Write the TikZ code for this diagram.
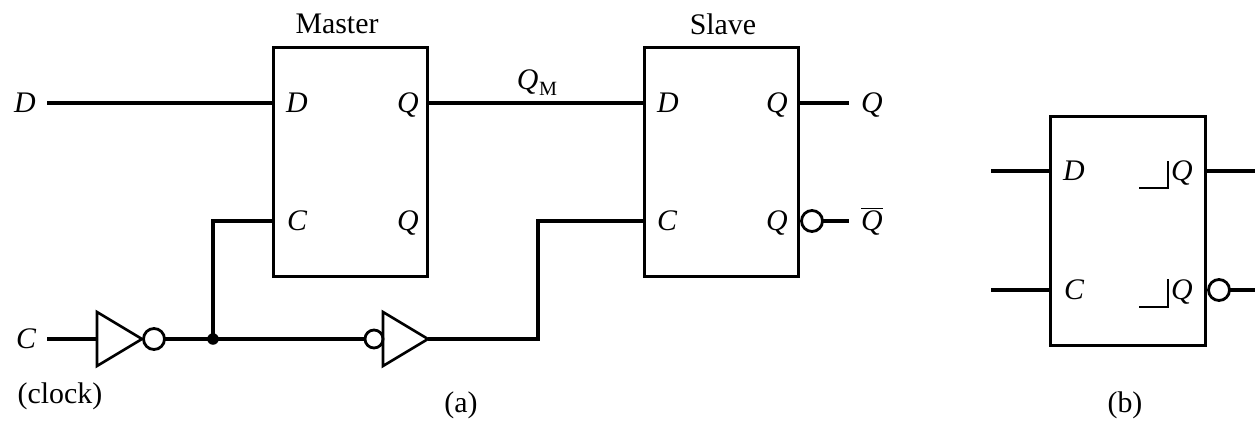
\documentclass[tikz,border=0pt]{standalone}
\usepackage{fontspec}
\setmainfont{Liberation Serif}
\usepackage{tikz}
\usetikzlibrary{shapes.geometric}
\tikzset{
  wire/.style={color=black,line width=2pt},
  ffbox/.style={draw,line width=1.7pt,minimum width=3.1cm,minimum height=4.6cm,inner sep=0pt,outer sep=0pt},
  invtri/.style={draw,line width=1.5pt,isosceles triangle,isosceles triangle stretches,minimum width=1.08cm,minimum height=0.9cm,inner sep=0pt,outer sep=0pt,anchor=lower side},
  bubble/.style={draw,line width=1.6pt,circle,minimum size=0.42cm,inner sep=0pt,outer sep=0pt,fill=white},
  smallbubble/.style={draw,line width=1.6pt,circle,minimum size=0.36cm,inner sep=0pt,outer sep=0pt,fill=white},
  jointdot/.style={circle,fill=black,minimum size=0.23cm,inner sep=0pt,outer sep=0pt},
  lab/.style={font=\fontsize{17}{20}\selectfont,inner sep=0pt},
  sig/.style={font=\fontsize{17}{20}\selectfont\itshape,inner sep=0pt}
}
\begin{document}
\begin{tikzpicture}[x=0.02cm,y=-0.02cm]
\useasboundingbox (0,0) rectangle (1255,423);

\node (master) at (350.5,162) [ffbox] {};
\node (slave) at (721.5,162) [ffbox] {};
\node (ffb) at (1128,231) [ffbox] {};

\coordinate (din) at (47,103);
\coordinate (cin) at (47,339);
\coordinate (md) at (274,103);
\coordinate (mc) at (274,221);
\coordinate (mq) at (427,103);
\coordinate (sd) at (644,103);
\coordinate (sc) at (644,221);
\coordinate (sq) at (799,103);
\coordinate (qout) at (849,103);
\coordinate (nqout) at (849,221);
\coordinate (bendlo) at (538,339);
\coordinate (bendhi) at (538,221);
\coordinate (bendm) at (213,221);

\coordinate (bd) at (991,171);
\coordinate (bc) at (991,290);
\coordinate (bdi) at (1050,171);
\coordinate (bci) at (1050,290);
\coordinate (bq) at (1206,171);
\coordinate (bqout) at (1255,171);
\coordinate (bnqout) at (1255,290);

\node (bubinva) at (154,339) [bubble] {};
\node (inva) at (97,339) [invtri] {};
\node (junct) at (213,339) [jointdot] {};
\node (bubinvb) at (374,339) [smallbubble] {};
\node (invb) at (383,339) [invtri] {};
\node (bubs) at (812,221) [bubble] {};
\node (bubb) at (1219,290) [bubble] {};

  \draw[wire] (din) to[] (md);
  \draw[wire] (mq) to[] (sd);
  \draw[wire] (sq) to[] (qout);
  \draw[wire] (bubs.east) to[] (nqout);
  \draw[wire] (cin) to[] (inva.lower side);
  \draw[wire] (bubinva.east) to[] (junct.center);
  \draw[wire] (junct.center) to[] (bubinvb.west);
  \draw[wire] (junct.center) to[] (bendm) to[] (mc);
  \draw[wire] (invb.apex) to[] (bendlo) to[] (bendhi) to[] (sc);
  \draw[wire] (bd) to[] (bdi);
  \draw[wire] (bc) to[] (bci);
  \draw[wire] (bq) to[] (bqout);
  \draw[wire] (bubb.east) to[] (bnqout);

  \draw[line width=1pt] (1139,188) -- (1168,188) -- (1168,161);
  \draw[line width=1pt] (1139,307) -- (1168,307) -- (1168,279);

\node (lmaster) at (337,24) [lab] {Master};
\node (lslave) at (723,24) [lab] {Slave};
\node (lclock) at (60,396) [lab] {(clock)};
\node (la) at (461,405) [lab] {(a)};
\node (lb) at (1125,405) [lab] {(b)};
\node (lqm) at (537,83) [lab] {\textit{Q}\kern0.5pt\raisebox{-3.4pt}{\fontsize{11.5}{12}\selectfont M}};

\node (ld) at (25,103) [sig] {D};
\node (lc) at (26,339) [sig] {C};
\node (lmd) at (297,103) [sig] {D};
\node (lmc) at (297,221) [sig] {C};
\node (lmq) at (408,105) [sig] {Q};
\node (lmnq) at (408,223) [sig] {Q};
\node (lsd) at (668,103) [sig] {D};
\node (lsc) at (667,221) [sig] {C};
\node (lsq) at (777,105) [sig] {Q};
\node (lsnq) at (777,223) [sig] {Q};
\node (lq) at (872,105) [sig] {Q};
\node (lnq) at (872,221) [lab] {$\overline{\mbox{\textit{Q}}}$};
\node (lbd) at (1074,171) [sig] {D};
\node (lbc) at (1074,290) [sig] {C};
\node (lbq) at (1182,173) [sig] {Q};
\node (lbnq) at (1182,292) [sig] {Q};
\end{tikzpicture}
\end{document}
